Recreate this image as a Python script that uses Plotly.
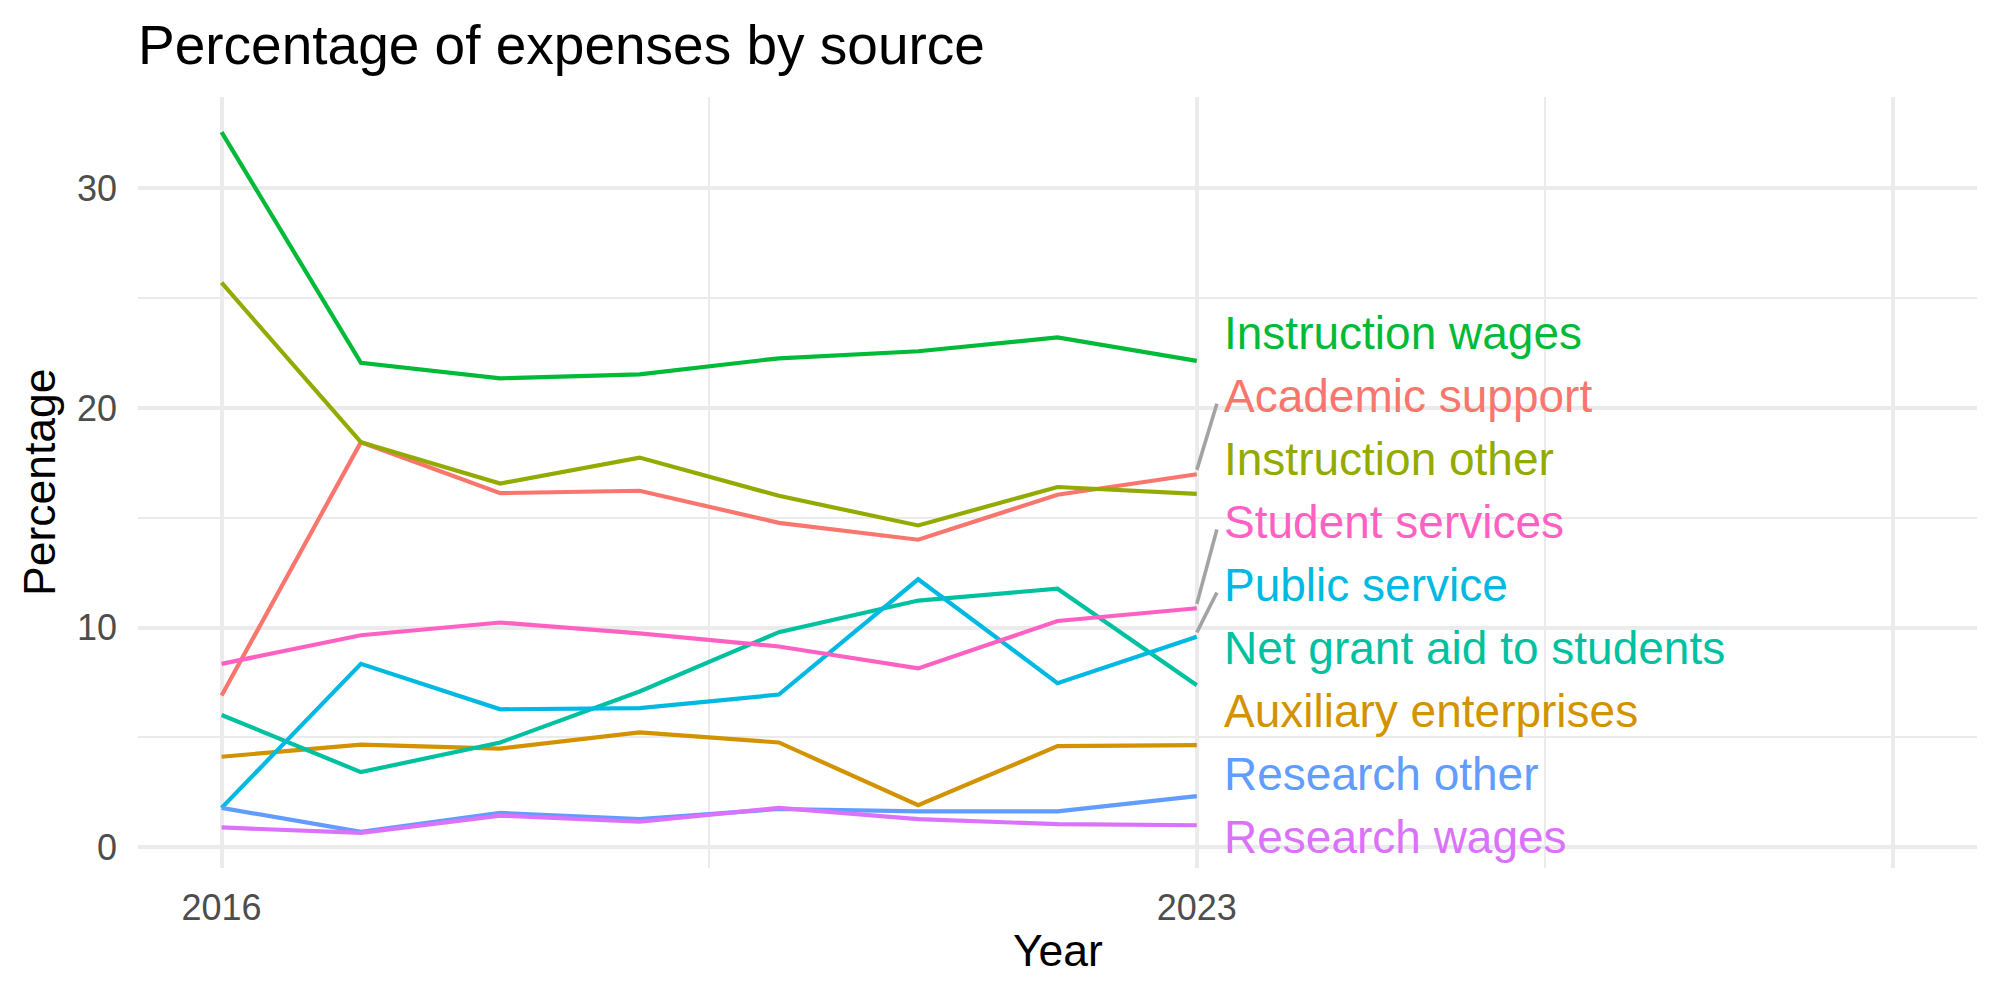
import plotly.graph_objects as go

# ---------------- data ----------------
years = [2016, 2017, 2018, 2019, 2020, 2021, 2022, 2023]

categories = [
    "Academic support",
    "Auxiliary enterprises",
    "Instruction other",
    "Instruction wages",
    "Net grant aid to students",
    "Public service",
    "Research other",
    "Research wages",
    "Student services",
]

academic_support = [6.91, 18.44, 16.12, 16.23, 14.77, 14.00, 16.05, 16.98]
auxiliary_enterprises = [4.12, 4.67, 4.49, 5.23, 4.77, 1.91, 4.60, 4.65]
instruction_other = [25.70, 18.44, 16.56, 17.74, 16.00, 14.65, 16.40, 16.09]
instruction_wages = [32.56, 22.05, 21.35, 21.53, 22.26, 22.58, 23.21, 22.14]
net_grant_aid = [6.02, 3.42, 4.77, 7.09, 9.79, 11.23, 11.77, 7.37]
public_service = [1.79, 8.35, 6.28, 6.33, 6.95, 12.20, 7.47, 9.58]
research_other = [1.79, 0.70, 1.56, 1.28, 1.74, 1.63, 1.63, 2.33]
research_wages = [0.90, 0.65, 1.44, 1.16, 1.79, 1.28, 1.05, 1.00]
student_services = [8.35, 9.65, 10.23, 9.74, 9.14, 8.14, 10.30, 10.88]

x_tick_vals = [2016, 2023, 2028]
x_tick_text = ["2016", "2023", ""]
y_tick_vals = [0, 10, 20, 30]
y_tick_text = ["0", "10", "20", "30"]

title_text = "Percentage of expenses by source"
x_title = "Year"
y_title = "Percentage"

# ---------------- styling ----------------
series = [academic_support, auxiliary_enterprises, instruction_other,
          instruction_wages, net_grant_aid, public_service,
          research_other, research_wages, student_services]
colors = ["#F8766D", "#D39200", "#93AA00", "#00BA38", "#00C19F",
          "#00B9E3", "#619CFF", "#DB72FB", "#FF61C3"]

FONT = "Liberation Sans, Arial, Helvetica, sans-serif"
GRID = "#EBEBEB"
x_limits = [2016, 2028]
label_nudge_x = 0.18
label_span = [0.48, 23.41]      # repelled label stack (bottom, top) in data units
segment_min_dist = 2.0
segment_color = "#A3A3A3"

# scale expansion like ggplot (5%)
xspan = x_limits[1] - x_limits[0]
xr = [x_limits[0] - 0.05 * xspan, x_limits[1] + 0.05 * xspan]
all_vals = [v for s in series for v in s]
ymin, ymax = min(all_vals), max(all_vals)
yspan = ymax - ymin
yr = [ymin - 0.05 * yspan, ymax + 0.05 * yspan]

# minor grid at midpoints between major breaks
x_minor = [(a + b) / 2 for a, b in zip(x_tick_vals[:-1], x_tick_vals[1:])]
y_minor = [(a + b) / 2 for a, b in zip(y_tick_vals[:-1], y_tick_vals[1:])]

fig = go.Figure()
for name, vals, col in zip(categories, series, colors):
    fig.add_trace(go.Scatter(
        x=years, y=vals, mode="lines", name=name,
        line=dict(color=col, width=4.2), showlegend=False,
        hovertemplate=name + "<br>%{x}: %{y:.2f}<extra></extra>",
    ))

# ---------------- end labels (stacked like ggrepel) ----------------
last_x = years[-1]
order = sorted(range(len(categories)), key=lambda i: series[i][-1])
n = len(order)
step = (label_span[1] - label_span[0]) / (n - 1)
annotations = []
for rank, i in enumerate(order):
    ly = label_span[0] + rank * step
    v = series[i][-1]
    annotations.append(dict(
        x=last_x + label_nudge_x, y=ly, xref="x", yref="y",
        text=categories[i], showarrow=False, xanchor="left", yanchor="middle",
        font=dict(family=FONT, size=46, color=colors[i]),
    ))
    if abs(ly - v) > segment_min_dist:
        sgn = 1 if ly > v else -1
        fig.add_trace(go.Scatter(
            x=[last_x, last_x + 0.144], y=[v + sgn * 0.2, ly - sgn * 0.35],
            mode="lines", line=dict(color=segment_color, width=3.6),
            showlegend=False, hoverinfo="skip",
        ))

# axis titles
annotations.append(dict(
    x=0.5, y=0, xref="paper", yref="paper", text=x_title, showarrow=False,
    xanchor="center", yanchor="top", yshift=-56,
    font=dict(family=FONT, size=44.5, color="black"),
))
annotations.append(dict(
    x=0, y=0.5, xref="paper", yref="paper", text=y_title, showarrow=False,
    xanchor="right", yanchor="middle", xshift=-72, textangle=-90,
    font=dict(family=FONT, size=44.5, color="black"),
))

fig.update_layout(
    width=2000, height=1000,
    margin=dict(l=138, r=23, t=97, b=132, pad=0),
    paper_bgcolor="white", plot_bgcolor="white",
    font=dict(family=FONT, color="#4D4D4D"),
    title=dict(text=title_text, x=0, xref="paper", xanchor="left",
               y=1 - 45 / 1000, yref="container", yanchor="middle",
               font=dict(family=FONT, size=55, color="black")),
    annotations=annotations,
    showlegend=False,
)
fig.update_xaxes(
    range=xr, tickmode="array", tickvals=x_tick_vals, ticktext=x_tick_text,
    showgrid=True, gridcolor=GRID, gridwidth=4,
    minor=dict(tickmode="array", tickvals=x_minor, showgrid=True,
               gridcolor=GRID, gridwidth=2),
    zeroline=False, showline=False, ticks="", ticklabelstandoff=15,
    tickfont=dict(family=FONT, size=36, color="#4D4D4D"),
)
fig.update_yaxes(
    range=yr, tickmode="array", tickvals=y_tick_vals, ticktext=y_tick_text,
    showgrid=True, gridcolor=GRID, gridwidth=4,
    minor=dict(tickmode="array", tickvals=y_minor, showgrid=True,
               gridcolor=GRID, gridwidth=2),
    zeroline=False, showline=False, ticks="", ticklabelstandoff=20,
    tickfont=dict(family=FONT, size=36, color="#4D4D4D"),
)

fig.write_html("out.html")
